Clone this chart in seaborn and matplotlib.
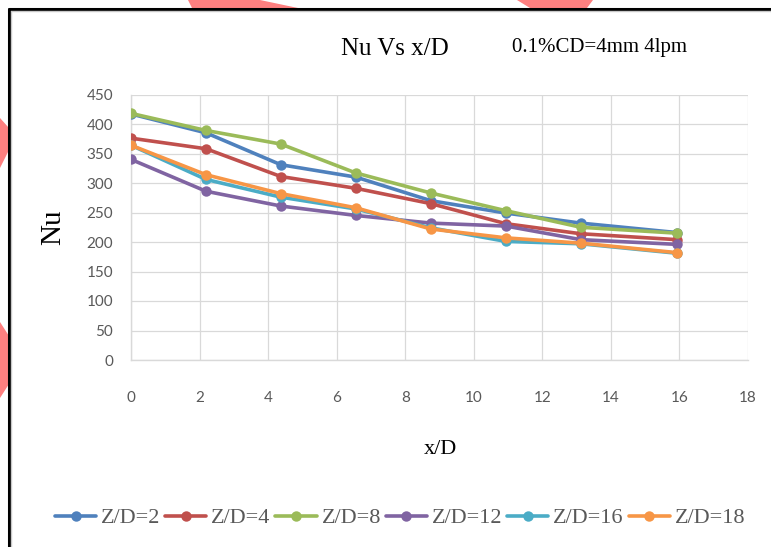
import numpy as np
import pandas as pd
import matplotlib
matplotlib.use("Agg")
import matplotlib.pyplot as plt
from matplotlib.lines import Line2D
from matplotlib.patches import Polygon, Rectangle
import seaborn as sns

# ---- data ----
x_over_d = [0, 2.19, 4.37, 6.56, 8.75, 10.94, 13.12, 15.92]
series_names = ["Z/D=2", "Z/D=4", "Z/D=8", "Z/D=12", "Z/D=16", "Z/D=18"]
nu_zd2 = [417, 385, 331, 310, 270, 249, 232, 216]
nu_zd4 = [376, 358, 311, 291, 265, 231, 214, 204]
nu_zd8 = [418, 389, 366, 317, 283, 253, 225, 215]
nu_zd12 = [340, 286, 261, 245, 232, 227, 204, 196]
nu_zd16 = [364, 306, 276, 256, 224, 201, 197, 181]
nu_zd18 = [364, 314, 282, 258, 222, 207, 198, 182]
colors = ["#4F81BD", "#C0504D", "#9BBB59", "#8064A2", "#4BACC6", "#F79646"]
x_ticks = [0, 2, 4, 6, 8, 10, 12, 14, 16, 18]
y_ticks = [0, 50, 100, 150, 200, 250, 300, 350, 400, 450]

all_series = [nu_zd2, nu_zd4, nu_zd8, nu_zd12, nu_zd16, nu_zd18]
df = pd.DataFrame({
    "x/D": np.tile(x_over_d, len(series_names)),
    "Nu": np.concatenate(all_series),
    "series": np.repeat(series_names, len(x_over_d)),
})

sns.set_theme(style="white")
plt.rcParams["font.family"] = ["Liberation Serif", "DejaVu Serif"]

W, H = 771, 547
fig = plt.figure(figsize=(W / 100, H / 100), dpi=100)
fig.patch.set_facecolor("white")

def px(xp, yp):
    return (xp / W, 1 - yp / H)

# decorative red shapes outside frame
red = "#FF8080"
shapes = [
    [(188, 0), (260, 0), (298, 8), (192, 8)],
    [(517, 0), (593, 0), (587, 8), (530, 8)],
    [(0, 118), (9, 128), (9, 150), (0, 168)],
    [(0, 322), (9, 336), (9, 384), (0, 398)],
]
for s in shapes:
    fig.patches.append(Polygon([px(*p) for p in s], closed=True, transform=fig.transFigure,
                               facecolor=red, edgecolor="none", zorder=0))
# black frame (left & top visible)
fig.add_artist(Line2D([9 / W, 9 / W], [1 - 9 / H, 0], transform=fig.transFigure,
                      color="black", lw=2.2, zorder=1))
fig.add_artist(Line2D([9 / W, 1], [1 - 9 / H, 1 - 9 / H], transform=fig.transFigure,
                      color="black", lw=2.2, zorder=1))
fig.add_artist(Line2D([11 / W, 11 / W], [1 - 11 / H, 0], transform=fig.transFigure,
                      color="#C8C8C8", lw=1.0, zorder=1))
fig.add_artist(Line2D([11 / W, 1], [1 - 11 / H, 1 - 11 / H], transform=fig.transFigure,
                      color="#C8C8C8", lw=1.0, zorder=1))

left, right, top, bottom = 131, 748, 94.5, 360
ax = fig.add_axes([left / W, 1 - bottom / H, (right - left) / W, (bottom - top) / H])
ax.set_facecolor("none")

sns.lineplot(data=df, x="x/D", y="Nu", hue="series", palette=colors,
             hue_order=series_names, marker="o", markersize=7.5, markeredgewidth=0,
             linewidth=2.6, ax=ax, legend=False, sort=False, zorder=3)

ax.set_xlim(0, 18)
ax.set_ylim(0, 450)
ax.set_xticks(x_ticks)
ax.set_yticks(y_ticks)
ax.grid(True, color="#D9D9D9", linewidth=0.9)
for side, sp in ax.spines.items():
    sp.set_visible(side in ("left", "bottom"))
    sp.set_color("#D9D9D9")
    sp.set_linewidth(1.0)
ax.tick_params(axis="x", length=0, pad=22, labelsize=11, labelcolor="#595959")
ax.tick_params(axis="y", length=0, pad=13, labelsize=11, labelcolor="#595959")
for lab in ax.get_xticklabels() + ax.get_yticklabels():
    lab.set_fontfamily(["Lato", "DejaVu Sans"])

ax.set_xlabel("x/D", fontsize=16, color="black")
ax.set_ylabel("Nu", fontsize=21, color="black")
ax.xaxis.set_label_coords((440 - left) / (right - left), (bottom - 449) / (bottom - top))
ax.xaxis.label.set_va("center")
ax.yaxis.set_label_coords((53 - left) / (right - left), 0.5)
ax.yaxis.label.set_va("center")

fig.text(395 / W, 1 - 55 / H, "Nu Vs x/D", ha="center", va="baseline", fontsize=18, color="black")
fig.text(512 / W, 1 - 52 / H, "0.1%CD=4mm 4lpm", ha="left", va="baseline", fontsize=15, color="black")

handles = [Line2D([0], [0], color=c, lw=2.6, marker="o", markersize=7.5, markeredgewidth=0)
           for c in colors]
leg = fig.legend(handles, series_names, loc="center", bbox_to_anchor=(400 / W, 1 - 518 / H),
                 ncol=6, frameon=False, fontsize=16, handlelength=1.85, handletextpad=0.22,
                 columnspacing=0.22, borderpad=0)
for t in leg.get_texts():
    t.set_color("#595959")

fig.savefig("out.png", dpi=100)
